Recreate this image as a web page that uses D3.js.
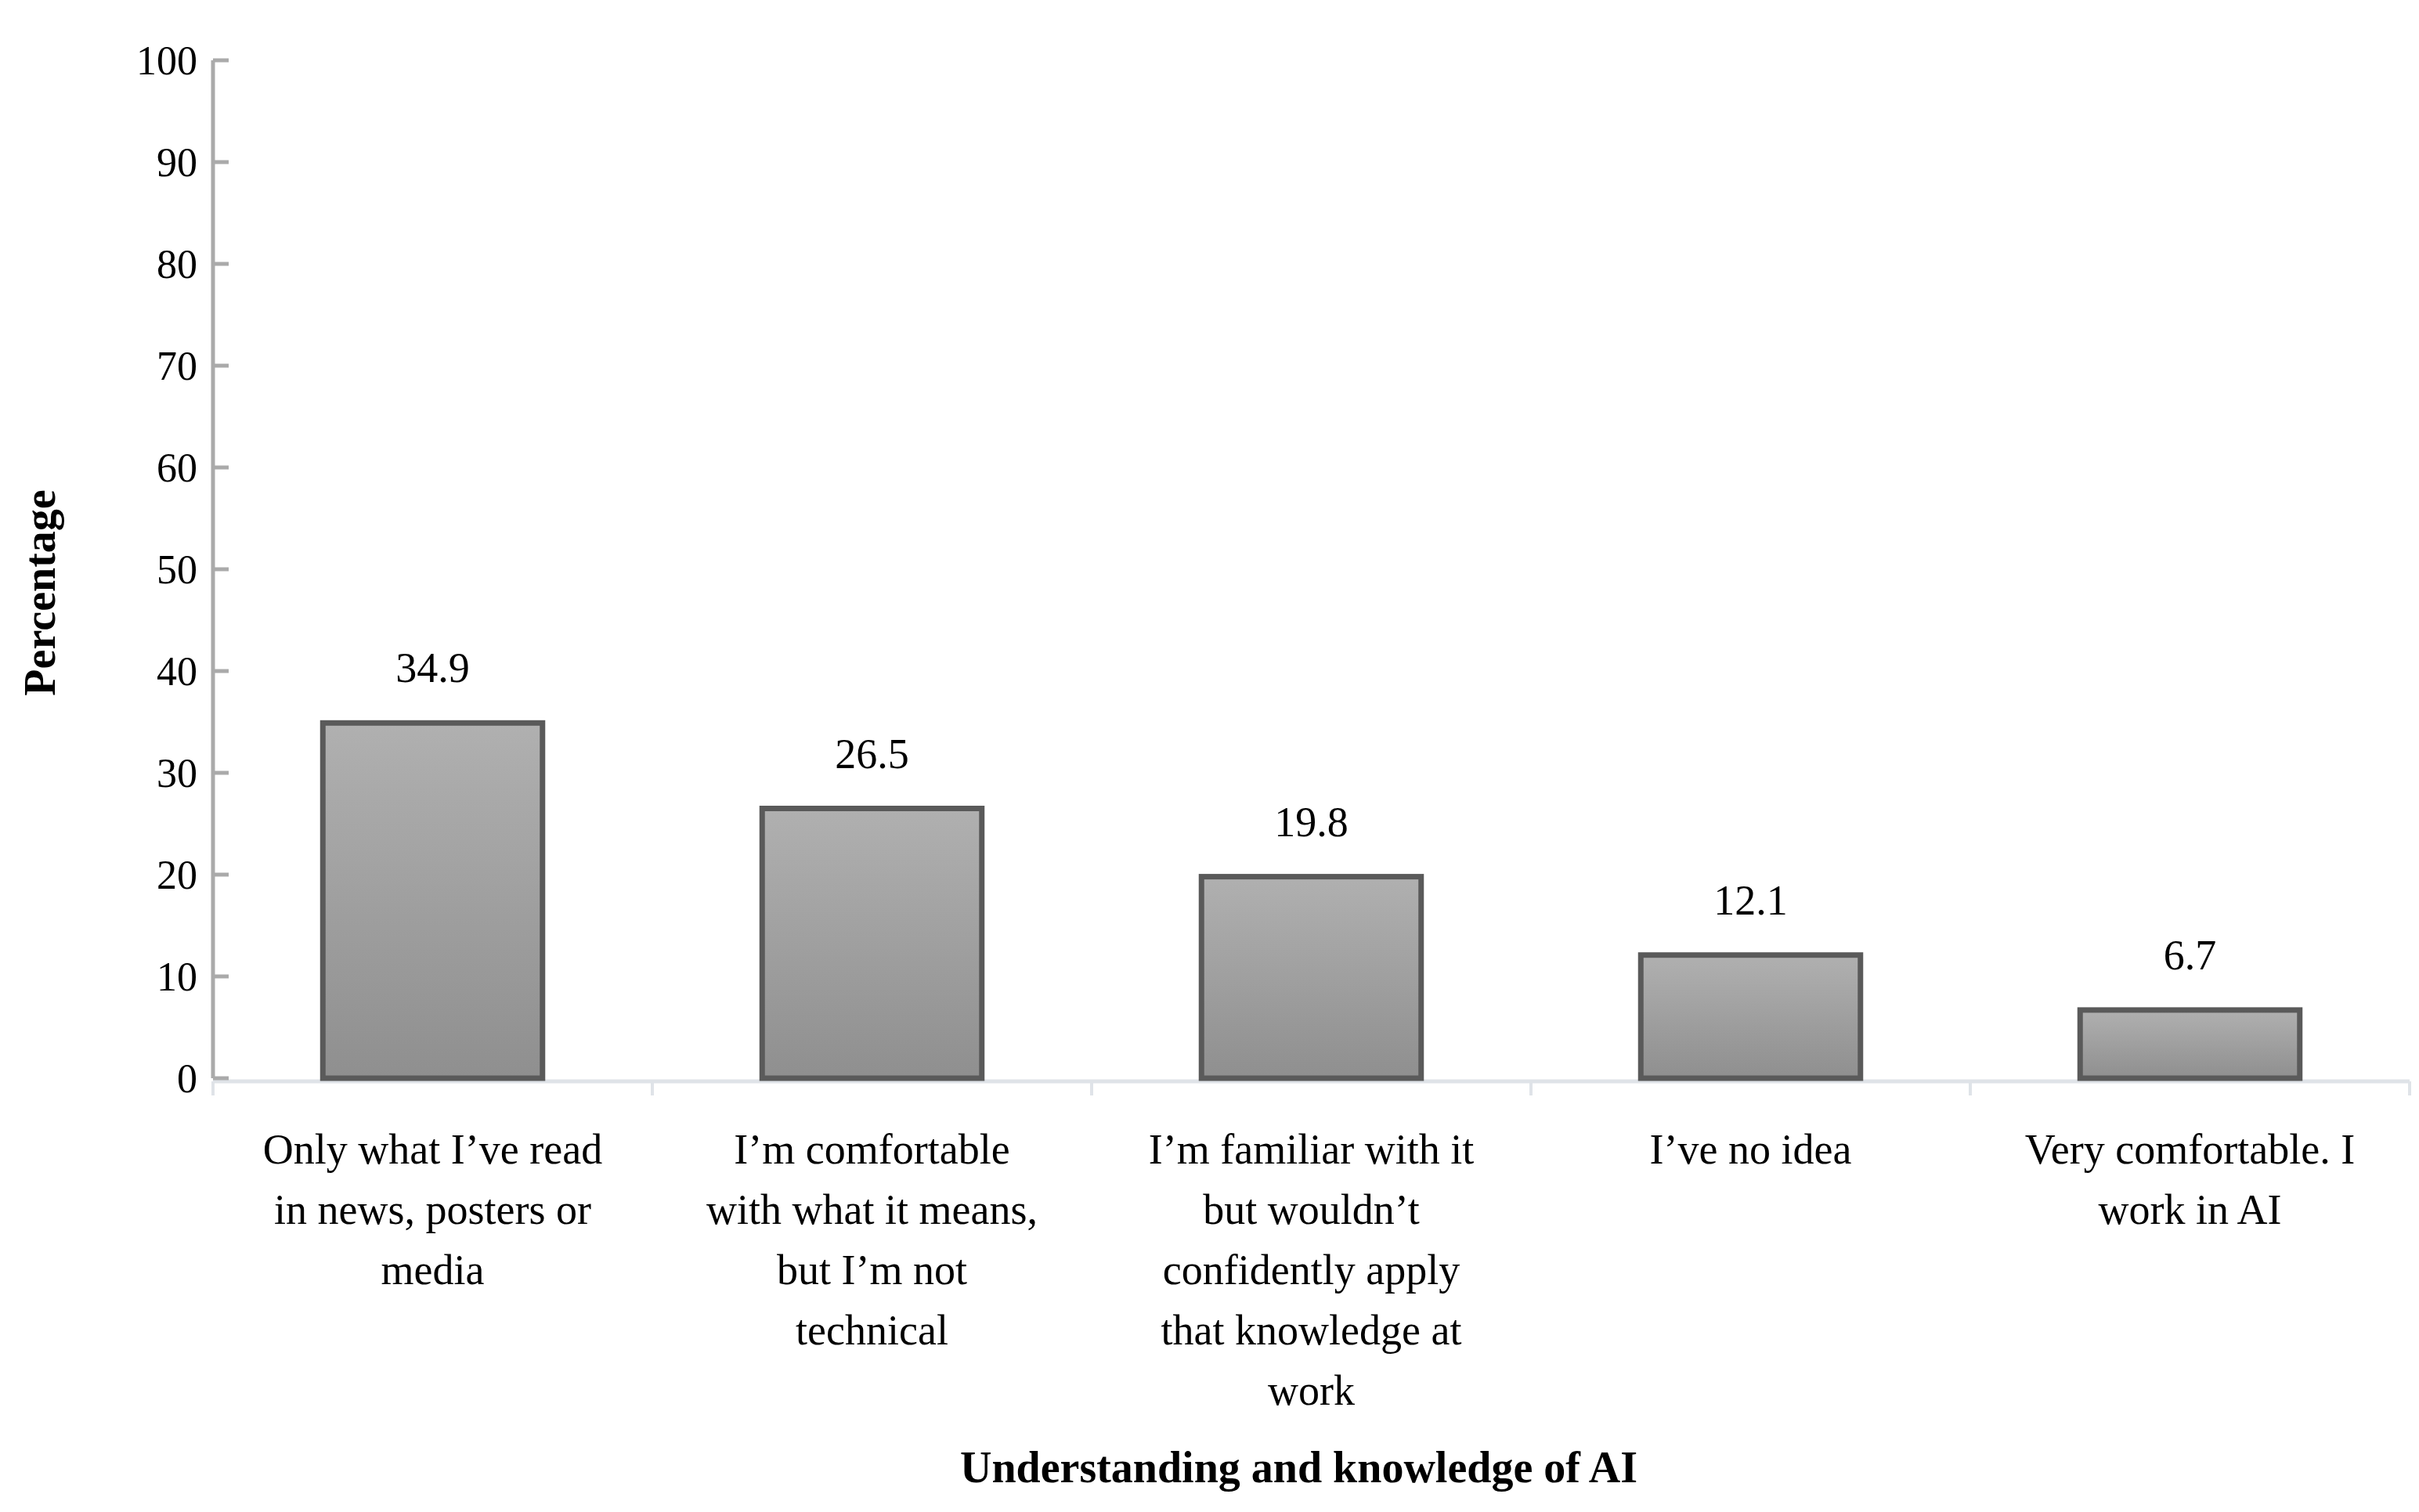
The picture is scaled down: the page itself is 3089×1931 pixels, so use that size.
<!DOCTYPE html>
<html><head><meta charset="utf-8">
<script src="https://cdn.jsdelivr.net/npm/d3@7"></script>
<style>body{margin:0;background:#fff}svg{display:block}text{font-family:"Liberation Serif","Times New Roman",serif}</style>
</head><body><svg id="c" width="3089" height="1931"></svg>
<script>
const categories = [
  ["Only what I’ve read","in news, posters or","media"],
  ["I’m comfortable","with what it means,","but I’m not","technical"],
  ["I’m familiar with it","but wouldn’t","confidently apply","that knowledge at","work"],
  ["I’ve no idea"],
  ["Very comfortable. I","work in AI"]
];
const values = [34.9, 26.5, 19.8, 12.1, 6.7];
const yTicks = [0,10,20,30,40,50,60,70,80,90,100];

const svg = d3.select("#c");
const L = 272, R = 3077, T = 77, B = 1377;
const x = d3.scaleBand().domain(d3.range(values.length)).range([L, R]).paddingInner(0.5).paddingOuter(0.25);
const xb = d3.scaleBand().domain(d3.range(values.length)).range([L, R]);
const y = d3.scaleLinear().domain([0,100]).range([B, T]);

const defs = svg.append("defs");
const g = defs.append("linearGradient").attr("id","gr").attr("x1",0).attr("x2",0).attr("y1",0).attr("y2",1);
g.append("stop").attr("offset","0%").attr("stop-color","#b0b0b0");
g.append("stop").attr("offset","100%").attr("stop-color","#8f8f8f");

// x axis line & ticks
svg.append("line").attr("x1",L).attr("x2",R).attr("y1",B+4).attr("y2",B+4).attr("stroke","#dfe3e8").attr("stroke-width",5);
d3.range(values.length+1).forEach(i=>{
  const xx = i<values.length ? xb(i) : R;
  svg.append("line").attr("x1",xx).attr("x2",xx).attr("y1",B+4).attr("y2",B+22).attr("stroke","#dfe3e8").attr("stroke-width",4);
});
// y axis
svg.append("line").attr("x1",L).attr("x2",L).attr("y1",T).attr("y2",B).attr("stroke","#aaa").attr("stroke-width",5);
yTicks.forEach(t=>{
  svg.append("line").attr("x1",L).attr("x2",L+20).attr("y1",y(t)).attr("y2",y(t)).attr("stroke","#aaa").attr("stroke-width",5);
  svg.append("text").attr("x",L-20).attr("y",y(t)).attr("dy","0.35em").attr("text-anchor","end").attr("font-size",52).text(t);
});

// bars
svg.selectAll("rect.bar").data(values).join("rect")
  .attr("x",(d,i)=>x(i)).attr("width",x.bandwidth())
  .attr("y",d=>y(d)).attr("height",d=>B-y(d))
  .attr("fill","url(#gr)").attr("stroke","#5a5a5a").attr("stroke-width",7);

svg.selectAll("text.val").data(values).join("text")
  .attr("x",(d,i)=>x(i)+x.bandwidth()/2).attr("y",d=>y(d)-52)
  .attr("text-anchor","middle").attr("font-size",54).text(d=>d.toFixed(1));

categories.forEach((lines,i)=>{
  const t = svg.append("text").attr("text-anchor","middle").attr("font-size",54);
  lines.forEach((ln,j)=>t.append("tspan").attr("x",xb(i)+xb.bandwidth()/2).attr("y",1486+j*77).text(ln));
});

svg.append("text").attr("x",(L+R)/2-16).attr("y",1893).attr("text-anchor","middle").attr("font-size",56).attr("font-weight","bold").text("Understanding and knowledge of AI");
svg.append("text").attr("transform",`translate(70,${(T+B)/2+30}) rotate(-90)`).attr("text-anchor","middle").attr("font-size",56).attr("font-weight","bold").text("Percentage");
</script></body></html>
